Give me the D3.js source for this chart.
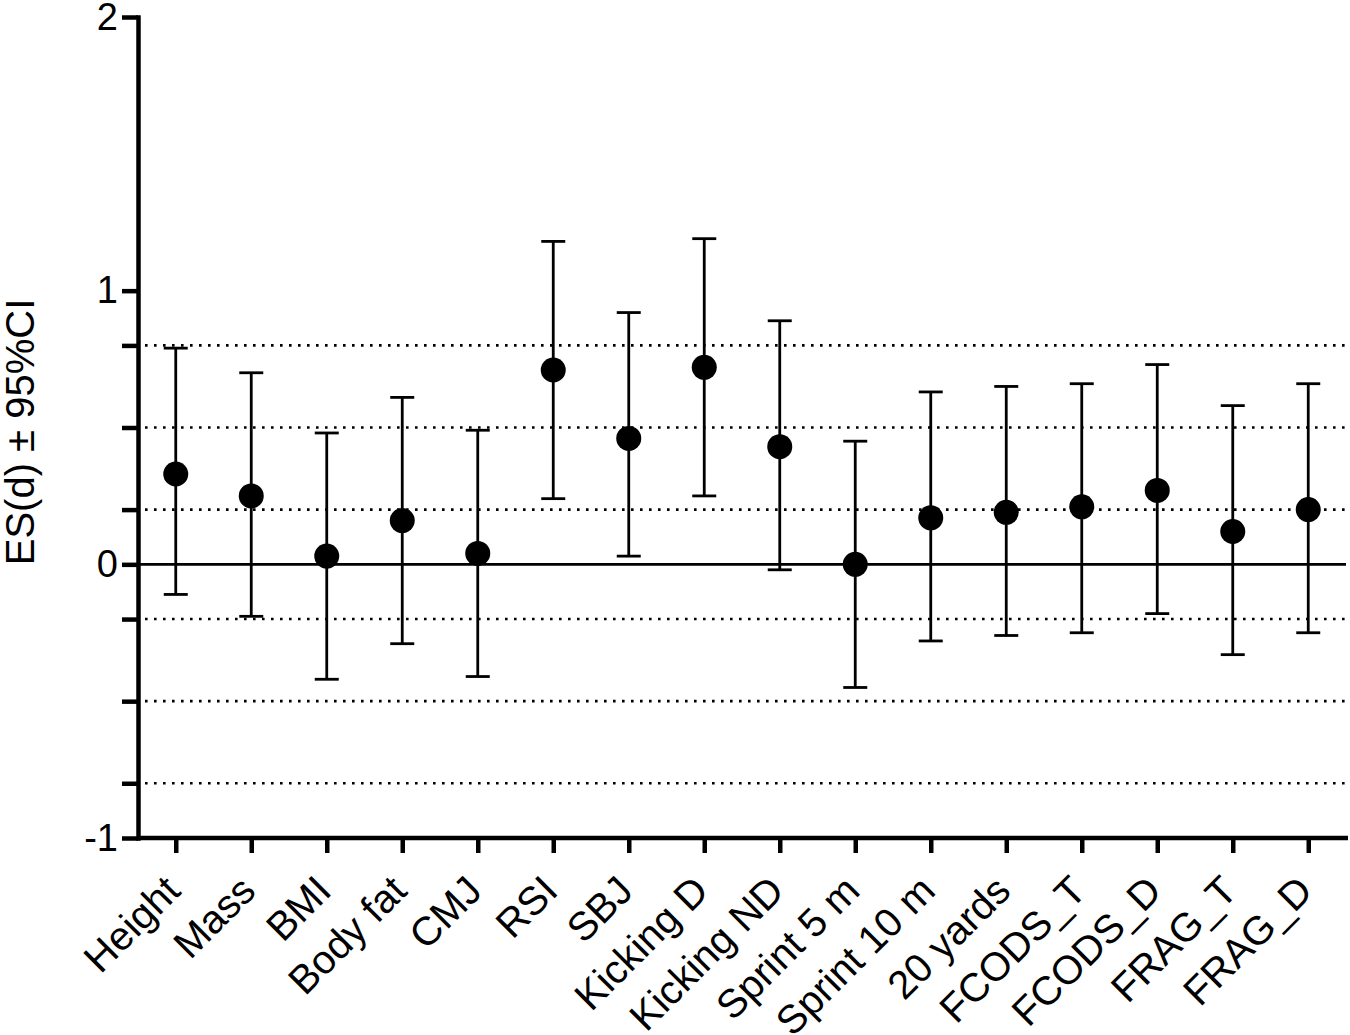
<!DOCTYPE html>
<html>
<head>
<meta charset="utf-8">
<script src="https://cdn.jsdelivr.net/npm/d3@7"></script>
<style>
  body { margin: 0; background: #fff; }
  svg { display: block; }
</style>
</head>
<body>
<script>
// Paramètres
const width = 1350;
const height = 1035;
const fontFamily = '"Liberation Sans", Arial, sans-serif';

// Données
const categories = ["Height", "Mass", "BMI", "Body fat", "CMJ", "RSI", "SBJ", "Kicking D",
  "Kicking ND", "Sprint 5 m", "Sprint 10 m", "20 yards", "FCODS_T", "FCODS_D", "FRAG_T", "FRAG_D"];
const es    = [0.33, 0.25, 0.03, 0.16, 0.04, 0.71, 0.46, 0.72, 0.43, 0.00, 0.17, 0.19, 0.21, 0.27, 0.12, 0.20];
const upper = [0.79, 0.70, 0.48, 0.61, 0.49, 1.18, 0.92, 1.19, 0.89, 0.45, 0.63, 0.65, 0.66, 0.73, 0.58, 0.66];
const lower = [-0.11, -0.19, -0.42, -0.29, -0.41, 0.24, 0.03, 0.25, -0.02, -0.45, -0.28, -0.26, -0.25, -0.18, -0.33, -0.25];
const majorTicks = [-1, 0, 1, 2];
const refLines = [-0.8, -0.5, -0.2, 0.2, 0.5, 0.8];

const svg = d3.select('body').append('svg')
  .attr('width', width)
  .attr('height', height)
  .style('font-family', fontFamily);

// Échelles
const x = d3.scalePoint()
  .domain(categories)
  .range([138, 1346])
  .padding(0.5);

const y = d3.scaleLinear()
  .domain([-1, 2])
  .range([838, 17]);

// Lignes de référence pointillées
svg.append('g')
  .selectAll('line')
  .data(refLines)
  .join('line')
  .attr('x1', 145)
  .attr('x2', 1348)
  .attr('y1', d => y(d))
  .attr('y2', d => y(d))
  .attr('stroke', '#000')
  .attr('stroke-width', 2.6)
  .attr('stroke-dasharray', '2.6,6.4');

// Ligne zéro
svg.append('line')
  .attr('x1', 138)
  .attr('x2', 1346)
  .attr('y1', y(0))
  .attr('y2', y(0))
  .attr('stroke', '#000')
  .attr('stroke-width', 2.6);

// Barres d'erreur
const rows = categories.map((c, i) => ({ c, v: es[i], lo: lower[i], hi: upper[i] }));
const capW = 12;
const bars = svg.append('g').attr('stroke', '#000').attr('stroke-width', 2.8);
bars.selectAll('.stem').data(rows).join('line')
  .attr('x1', d => x(d.c)).attr('x2', d => x(d.c))
  .attr('y1', d => y(d.lo)).attr('y2', d => y(d.hi));
bars.selectAll('.capHi').data(rows).join('line')
  .attr('x1', d => x(d.c) - capW).attr('x2', d => x(d.c) + capW)
  .attr('y1', d => y(d.hi)).attr('y2', d => y(d.hi));
bars.selectAll('.capLo').data(rows).join('line')
  .attr('x1', d => x(d.c) - capW).attr('x2', d => x(d.c) + capW)
  .attr('y1', d => y(d.lo)).attr('y2', d => y(d.lo));

// Points
svg.append('g').selectAll('circle').data(rows).join('circle')
  .attr('cx', d => x(d.c))
  .attr('cy', d => y(d.v))
  .attr('r', 12.5)
  .attr('fill', '#000');

// Axe vertical : ticks principaux
const gy = svg.append('g')
  .attr('transform', 'translate(138,0)')
  .call(d3.axisLeft(y).tickValues(majorTicks).tickFormat(d => String(d))
    .tickSize(16).tickSizeOuter(0).tickPadding(4));
gy.select('.domain').attr('stroke-width', 4.5).attr('stroke-linecap', 'square');
gy.selectAll('.tick line').attr('stroke-width', 4.5);
gy.selectAll('.tick text').attr('font-size', 38).attr('font-family', fontFamily).attr('fill', '#000');

// Axe vertical : ticks secondaires sans étiquette
const gy2 = svg.append('g')
  .attr('transform', 'translate(138,0)')
  .call(d3.axisLeft(y).tickValues(refLines).tickFormat('').tickSize(16).tickSizeOuter(0));
gy2.select('.domain').remove();
gy2.selectAll('.tick line').attr('stroke-width', 4.5);

// Axe horizontal
const gx = svg.append('g')
  .attr('transform', `translate(0,${y(-1)})`)
  .call(d3.axisBottom(x).tickSize(15).tickSizeOuter(0));
gx.select('.domain').attr('stroke-width', 4.5).attr('d', 'M138,0H1348');
gx.selectAll('.tick line').attr('stroke-width', 4.5);
gx.selectAll('.tick text')
  .attr('font-size', 40)
  .attr('font-family', fontFamily)
  .attr('fill', '#000')
  .attr('text-anchor', 'end')
  .attr('dy', null)
  .attr('y', null)
  .attr('transform', 'translate(6,55) rotate(-45)');

// Titre de l'axe Y
svg.append('text')
  .attr('transform', 'translate(34,432) rotate(-90)')
  .attr('text-anchor', 'middle')
  .attr('font-size', 40)
  .attr('fill', '#000')
  .text('ES(d) ± 95%CI');
</script>
</body>
</html>
